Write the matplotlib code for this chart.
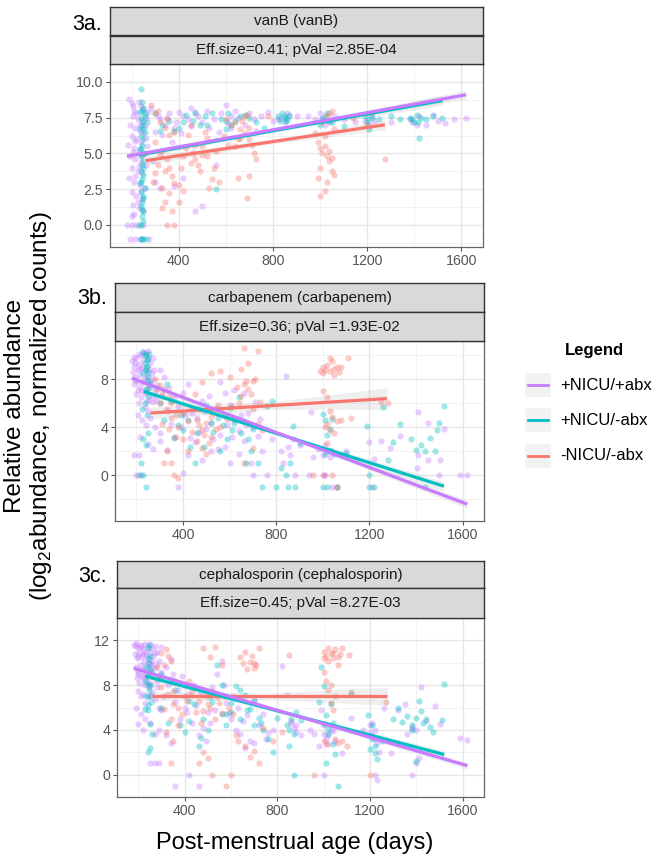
import numpy as np
import matplotlib
matplotlib.use("Agg")
import matplotlib.pyplot as plt

plt.rcParams["font.family"] = ["Liberation Sans", "DejaVu Sans"]
plt.rcParams["mathtext.fontset"] = "custom"
plt.rcParams["mathtext.rm"] = "Liberation Sans"

# ---- data ----
groups = ["+NICU/+abx", "+NICU/-abx", "-NICU/-abx"]
colors = ["#C77CFF", "#00BFC4", "#F8766D"]

panel_labels = ["3a.", "3b.", "3c."]
gene_titles = ["vanB (vanB)", "carbapenem (carbapenem)", "cephalosporin (cephalosporin)"]
stat_titles = ["Eff.size=0.41; pVal =2.85E-04",
               "Eff.size=0.36; pVal =1.93E-02",
               "Eff.size=0.45; pVal =8.27E-03"]

x_ticks = [400, 800, 1200, 1600]
a_yticks = [0.0, 2.5, 5.0, 7.5, 10.0]
b_yticks = [0, 4, 8]
c_yticks = [0, 4, 8, 12]
a_ylim = (-1.54, 10.13)
b_ylim = (-3.8, 11.2)
c_ylim = (-1.57, 12.4)

a_purple = [(190,8.8),(200,8.5),(210,8.0),(230,8.6),(240,8.3),(250,8.1),(205,7.6),(225,7.4),(245,7.2),
            (260,7.5),(195,7.0),(215,6.8),(235,6.6),(255,6.9),(200,6.2),(220,6.0),(240,5.8),(260,6.1),
            (185,5.6),(210,5.4),(230,5.2),(250,5.0),(195,4.8),(215,4.6),(240,4.4),(260,4.2),(200,4.0),
            (225,3.8),(245,3.6),(190,3.3),(210,3.0),(235,2.8),(255,2.6),(200,2.3),(220,2.0),(245,1.8),
            (205,1.4),(230,1.2),(250,1.0),(200,0.6),(180,0.0),(200,0.0),(220,0.0),(235,-1.0),(215,-1.0),
            (275,-1.0),(290,4.5),(300,3.0),(320,2.6),(300,6.5),(320,7.4),(340,7.0),(360,7.8),(380,6.8),
            (420,7.6),(450,6.9),(480,7.6),(500,7.2),(520,8.0),(550,7.4),(580,7.8),(600,8.4),(620,7.6),
            (650,7.5),(680,7.0),(720,7.4),(750,7.6),(800,7.3),(830,7.5),(860,7.8),(900,7.6),(950,7.6),
            (980,7.4),(1000,7.8),(1020,7.0),(1060,7.6),(1100,7.4),(1150,7.2),(1190,7.3),(1220,7.6),
            (1300,7.2),(1380,7.4),(1420,7.6),(1450,7.0),(1500,7.3),(1570,7.4),(1620,7.5),(500,1.3),
            (420,3.3),(470,1.0),(560,4.2),(620,6.8),(400,7.9),(450,8.2),(380,2.7),
            (205,8.3),(220,7.8),(235,7.0),(250,6.4),(215,5.9),(205,5.1),(245,4.8),(230,4.1),(215,3.4),
            (240,2.4),(225,1.6),(210,0.8),(195,-1.0),(250,0.0),(265,5.5),(270,7.9),(280,8.2),(310,7.6),
            (330,6.3),(350,7.5),(370,5.8),(390,7.2),(410,6.4),(440,7.4),(470,7.9),(530,6.8),(570,6.5),
            (610,7.1),(640,8.0),(700,7.8),(730,6.6),(780,7.9),(820,7.4),(850,7.2),(870,7.6),(1010,7.5),
            (1040,7.2),(1210,7.0),(1230,7.3),(1390,7.2),(1410,7.0),(1480,7.7),(1530,7.1)]
a_teal = [(240,9.5),(245,8.6),(250,8.2),(235,7.9),(255,7.8),(240,7.5),(250,7.3),(245,7.0),(235,6.7),
          (255,6.5),(240,6.2),(250,6.0),(245,5.6),(235,5.3),(255,5.0),(240,4.8),(250,4.5),(245,4.2),
          (240,3.8),(250,3.5),(245,3.2),(235,2.9),(255,2.6),(240,2.3),(250,2.0),(245,1.6),(240,1.3),
          (250,1.0),(245,0.6),(230,0.0),(240,0.0),(250,-1.0),(245,-1.0),(260,-1.0),(265,7.2),(300,7.8),
          (330,7.0),(360,7.3),(380,6.6),(400,6.8),(430,7.7),(460,7.3),(490,7.0),(510,7.6),(540,7.8),
          (560,2.5),(580,7.4),(610,7.8),(640,7.3),(660,7.6),(700,7.5),(730,7.2),(760,6.8),(820,7.6),
          (830,7.3),(840,7.8),(850,7.5),(860,7.4),(870,7.7),(1000,7.0),(1010,7.4),(1030,7.8),(1050,7.2),
          (1100,6.9),(1190,7.6),(1200,7.2),(1210,6.7),(1220,7.5),(1250,7.4),(1300,7.6),(1340,7.4),
          (1380,7.5),(1400,7.2),(1410,7.7),(1420,6.1),(1450,7.4),(1480,7.6),(1520,7.5),
          (245,8.0),(250,6.8),(240,5.4),(250,4.0),(240,3.0),(250,1.9),(245,1.1),(250,0.3),(240,-1.0),
          (255,7.6),(320,6.6),(420,7.2),(470,7.8),(520,7.0),(600,7.3),(680,7.7),(845,7.6),(855,7.3),
          (1020,7.6),(1040,7.3),(1205,7.4),(1215,7.8),(1390,7.4),(1415,7.2),(1430,7.5),(600,6.7),(620,7.0)]
a_red = [(280,8.4),(300,7.8),(320,7.2),(340,6.8),(360,6.3),(300,5.8),(330,5.2),(350,4.6),(310,4.2),
         (340,3.8),(370,3.4),(290,3.0),(330,2.6),(360,2.2),(340,1.6),(370,1.0),(350,0.0),(380,0.0),
         (400,1.6),(400,2.8),(410,4.0),(420,4.8),(430,5.4),(440,6.3),(460,5.0),(470,4.6),(480,4.2),
         (490,3.8),(500,5.5),(510,6.5),(520,4.8),(530,2.6),(540,3.2),(450,7.0),(560,5.2),(590,6.2),
         (620,7.0),(640,5.5),(650,6.0),(660,6.7),(670,7.3),(680,6.4),(690,7.7),(700,6.8),(710,5.6),
         (720,5.0),(730,4.6),(650,3.3),(690,1.9),(700,3.4),(600,7.4),(780,7.6),(980,6.4),(990,5.8),
         (1000,5.4),(1010,5.0),(1020,5.5),(1030,4.8),(1040,4.5),(1000,4.0),(990,3.3),(1000,2.0),
         (1020,2.4),(1050,3.8),(1060,3.5),(1040,7.8),(1050,8.0),(1030,7.6),(1010,7.2),(1060,6.7),
         (1140,7.5),(1275,4.6),(1200,7.0),
         (310,8.0),(350,7.4),(380,6.5),(320,4.9),(360,4.0),(300,3.6),(380,2.9),(330,1.2),(420,2.4),
         (450,4.3),(470,5.6),(500,4.9),(520,6.1),(550,4.0),(570,3.0),(610,5.6),(640,7.2),(660,6.1),
         (675,7.6),(700,6.0),(1020,6.2),(1040,5.2),(1050,4.7),(1030,3.0)]

b_purple = [(180,9.5),(190,9.0),(200,9.8),(210,9.3),(220,10.0),(230,9.6),(240,10.2),(250,9.8),(260,9.4),
            (185,8.6),(195,8.2),(205,8.8),(215,8.4),(225,9.0),(235,8.7),(245,8.3),(255,8.9),(265,8.5),
            (190,7.6),(200,7.9),(215,7.4),(230,7.8),(245,7.2),(260,7.6),(270,8.0),(200,6.8),(220,6.5),
            (240,6.9),(255,6.3),(210,6.0),(235,5.7),(250,5.4),(270,6.1),(280,7.0),(290,7.5),(300,8.8),
            (310,6.6),(205,5.0),(225,4.6),(240,4.2),(260,4.8),(280,4.0),(300,3.5),(215,3.2),(250,2.6),
            (270,2.2),(300,2.9),(330,2.1),(190,1.7),(210,1.7),(200,0.0),(220,0.0),(380,-1.0),
            (340,7.3),(360,6.5),(380,5.8),(400,6.9),(420,7.6),(440,5.2),(460,4.8),(480,6.2),(500,3.9),
            (520,4.4),(540,5.6),(560,7.8),(580,6.9),(600,5.9),(620,4.6),(640,3.7),(660,2.9),(680,5.2),
            (700,4.0),(720,3.3),(640,1.8),(600,1.0),(580,2.4),(560,3.4),(520,2.0),(480,1.3),(450,2.8),
            (420,1.7),(400,0.2),(760,0.0),(700,0.0),(740,2.0),(780,3.0),(660,6.9),(620,7.1),
            (840,8.3),(850,2.4),(860,1.7),(870,3.0),(880,0.0),(900,2.5),(940,0.0),(960,1.5),(950,5.3),
            (1000,1.7),(1010,2.5),(1020,2.0),(1030,1.5),(1040,-1.0),(1010,0.0),(1060,-1.0),(1100,2.0),
            (1200,2.8),(1220,1.4),(1210,-1.0),(1250,2.9),(1290,2.3),(1330,3.3),(1410,5.3),(1450,4.4),
            (1520,3.9),(1410,1.7),(1450,1.3),(1505,1.3),(1405,0.6),(1590,0.0),(1620,0.0),
            (190,9.9),(210,10.1),(230,10.3),(250,10.4),(270,9.8),(195,9.4),(215,8.9),(235,8.1),(255,7.9),
            (275,8.8),(205,7.1),(225,7.0),(245,6.2),(265,6.6),(285,6.3),(320,8.2),(330,5.4),(350,4.3),
            (360,3.2),(390,4.0),(410,5.0),(430,3.1),(470,3.6),(490,5.4),(510,6.6),(530,3.0),(550,2.2),
            (590,4.2),(610,3.2),(650,5.0),(670,4.2),(690,1.0),(710,6.1),(730,4.7),(820,2.0),(830,1.0),
            (980,2.2),(1040,2.0),(1005,0.0),(1500,0.0)]
b_teal = [(230,10.3),(240,10.0),(250,9.7),(235,9.4),(245,9.1),(255,10.1),(240,8.8),(230,8.5),(250,8.2),
          (260,7.7),(240,7.2),(250,6.6),(235,6.0),(225,5.5),(245,5.0),(230,3.0),(250,3.5),(240,2.5),
          (220,1.0),(230,0.0),(210,0.0),(240,-1.0),(300,6.0),(330,7.6),(350,6.2),(380,4.2),(400,3.8),
          (430,2.4),(450,1.0),(470,5.5),(500,5.9),(530,3.6),(550,4.8),(570,4.2),(590,3.0),(600,5.6),
          (610,3.8),(640,6.5),(660,4.5),(680,3.0),(690,2.0),(720,1.0),(740,-1.0),(760,5.8),(780,6.2),
          (800,-1.0),(820,0.6),(840,0.0),(850,-1.0),(860,1.0),(870,4.1),(880,-1.0),(900,2.7),
          (1000,5.1),(1010,4.6),(1020,3.4),(1030,3.9),(1040,4.7),(1050,1.8),(1060,-1.0),(1000,-1.0),
          (1020,-1.0),(1100,1.9),(1190,4.1),(1200,-1.0),(1220,-1.0),(1260,5.7),(1280,1.3),(1300,2.8),
          (1330,4.3),(1380,3.0),(1400,2.1),(1420,2.5),(1460,3.1),(1490,3.8),(1500,4.4),(1480,2.0),
          (1520,5.8),(1440,-1.0),
          (235,10.0),(245,9.6),(240,9.0),(250,8.6),(245,7.9),(255,7.3),(320,4.6),(360,3.1),(390,5.0),
          (420,4.6),(460,3.5),(490,2.4),(520,4.4),(560,2.0),(580,5.0),(620,4.4),(650,3.5),(670,1.0),
          (700,3.9),(1010,1.8),(1030,2.1),(1200,0.0),(1440,2.0)]
b_red = [(280,8.0),(300,7.5),(320,7.2),(340,6.5),(300,6.0),(330,5.5),(350,4.8),(310,4.3),(340,3.9),
         (370,3.2),(330,2.0),(350,1.0),(320,1.0),(360,0.0),(380,-0.2),(400,5.2),(420,4.5),(440,3.6),
         (460,2.9),(480,2.3),(500,1.8),(470,4.2),(490,3.4),(510,2.7),(520,4.9),(540,3.9),(550,5.9),
         (450,6.8),(480,7.8),(520,8.5),(560,8.7),(600,8.2),(620,4.8),(640,6.0),(660,7.6),(680,7.2),
         (700,7.9),(710,8.0),(660,10.6),(720,10.4),(680,9.4),(700,5.5),(720,4.3),(740,3.8),(660,1.0),
         (700,2.3),(650,8.9),(1000,8.5),(1010,8.8),(1020,9.2),(1030,8.7),(1040,9.5),(1050,8.4),
         (1060,9.0),(1070,8.6),(1080,9.0),(1110,9.8),(990,8.7),(1000,7.0),(1020,6.5),(1030,5.4),
         (1040,4.9),(1030,3.8),(1020,4.3),(1060,4.5),(1080,4.6),(1120,4.8),(1000,0.0),(1060,-1.0),
         (1040,0.0),(960,0.0),(1280,6.0),(1250,6.1),(1020,2.7),
         (290,7.2),(310,6.8),(350,6.0),(370,5.0),(380,4.0),(400,3.0),(420,2.0),(440,5.6),(460,4.6),
         (480,3.8),(500,4.4),(520,3.2),(530,5.3),(560,4.0),(590,4.7),(610,5.8),(630,7.4),(650,6.6),
         (670,7.9),(690,6.8),(730,6.1),(1000,9.0),(1030,9.8),(1050,8.9),(1010,4.0),(1050,3.5)]

c_purple = [(180,11.6),(190,11.5),(200,11.3),(210,11.6),(220,11.2),(230,11.7),(240,11.4),(250,11.0),
            (260,11.3),(270,11.5),(185,10.8),(195,10.4),(205,10.9),(215,10.5),(225,10.1),(235,10.7),
            (245,10.3),(255,9.9),(265,10.6),(280,11.0),(190,9.6),(200,9.2),(210,9.8),(220,9.4),(230,9.0),
            (240,9.6),(250,9.2),(260,8.8),(270,9.5),(290,10.2),(300,11.4),(195,8.6),(205,8.2),(215,8.8),
            (225,8.0),(235,8.4),(245,7.8),(255,8.1),(200,7.5),(220,7.2),(240,6.9),(260,7.4),(280,7.8),
            (300,8.6),(320,9.6),(340,10.3),(190,6.0),(210,5.4),(230,5.0),(200,4.5),(220,4.0),(250,4.6),
            (270,3.6),(290,4.0),(300,5.8),(320,3.5),(340,2.8),(250,1.0),(270,1.0),(290,1.0),(360,-1.0),
            (460,-1.0),(420,0.0),(360,6.5),(380,5.0),(400,6.0),(420,7.2),(440,8.0),(460,3.5),(480,4.2),
            (500,5.6),(520,7.8),(540,9.0),(560,10.2),(580,6.4),(600,5.0),(620,4.0),(640,3.6),(660,2.4),
            (680,3.0),(700,6.8),(720,4.4),(740,5.4),(760,3.7),(780,4.0),(820,9.7),(840,7.1),(860,4.8),
            (870,4.2),(880,3.8),(900,3.5),(940,4.0),(960,3.6),(980,2.6),(990,5.8),(1000,4.4),(1010,3.2),
            (1020,2.7),(1030,4.0),(1050,3.0),(1000,0.0),(1080,1.9),(1120,5.1),(1170,4.0),(1200,4.4),
            (1210,3.5),(1220,4.0),(1230,2.8),(1240,2.0),(1260,6.0),(1290,1.9),(1320,5.8),(1350,6.3),
            (1360,3.6),(1380,4.3),(1400,4.0),(1410,1.5),(1420,7.8),(1440,4.8),(1480,6.1),(1500,4.5),
            (1590,3.3),(1620,3.1),(1380,0.0),(1220,0.0),(1230,-0.5),
            (190,11.8),(210,11.4),(230,11.0),(250,11.7),(270,10.9),(200,10.6),(220,10.8),(240,10.0),
            (260,10.2),(280,9.9),(200,9.0),(220,8.6),(240,8.2),(260,9.6),(280,8.4),(300,9.2),(210,7.0),
            (230,6.4),(250,7.1),(270,6.8),(290,6.0),(310,7.0),(330,8.0),(350,9.0),(370,7.6),(390,8.8),
            (410,5.6),(430,4.6),(450,6.2),(470,7.4),(490,3.0),(510,4.6),(530,5.8),(570,8.0),(590,5.5),
            (610,7.0),(630,6.0),(650,4.8),(670,5.3),(700,2.8),(750,3.2),(860,4.6),(880,4.4),(1000,3.6),
            (1020,3.5),(1040,3.9),(1200,3.8),(1210,4.6),(1220,3.2),(1380,4.1),(1400,1.0)]
c_teal = [(240,11.3),(250,10.6),(245,10.0),(235,9.6),(255,9.2),(240,8.8),(230,8.4),(250,8.0),(245,7.6),
          (235,7.0),(255,6.5),(240,5.8),(230,5.9),(250,4.5),(260,3.6),(240,2.0),(250,2.4),(280,8.6),
          (300,9.0),(340,8.5),(380,4.4),(400,3.8),(420,4.8),(440,6.3),(460,2.6),(470,3.3),(500,4.0),
          (520,6.5),(540,9.8),(560,8.0),(580,5.4),(600,5.6),(620,7.9),(640,7.6),(660,7.1),(680,5.9),
          (700,4.4),(720,5.1),(740,4.0),(760,3.2),(780,2.0),(800,5.1),(840,4.4),(850,2.6),(860,5.0),
          (880,5.6),(900,4.9),(870,0.0),(980,6.5),(990,9.6),(1000,7.9),(1010,5.3),(1020,4.1),(1030,6.3),
          (1040,2.7),(1050,1.8),(1060,-1.0),(1010,1.0),(1120,7.2),(1190,5.3),(1200,2.3),(1210,3.2),
          (1220,1.9),(1230,1.4),(1250,3.0),(1300,5.0),(1320,6.0),(1340,4.7),(1360,5.2),(1380,4.4),
          (1400,5.1),(1410,6.6),(1420,5.7),(1440,5.0),(1460,4.3),(1470,3.8),(1510,4.9),(1520,8.1),
          (1400,1.2),
          (245,11.6),(240,10.4),(250,9.4),(240,8.0),(250,7.0),(240,6.2),(300,6.0),(330,4.6),(360,7.6),
          (420,6.6),(480,5.0),(510,6.9),(560,5.4),(580,4.4),(600,6.4),(640,5.0),(670,5.8),(700,6.6),
          (730,4.6),(850,4.0),(870,3.6),(1000,4.5),(1020,3.6),(1040,4.6),(1210,4.4),(1220,2.6),
          (1380,4.0),(1430,4.6)]
c_red = [(280,9.6),(300,10.9),(320,11.2),(340,10.2),(360,8.4),(300,7.8),(330,7.2),(350,6.3),(310,5.9),
         (340,5.0),(370,4.4),(320,3.8),(350,3.0),(340,1.0),(400,7.0),(420,8.4),(440,7.8),(460,6.6),
         (480,5.7),(500,6.3),(520,7.5),(540,6.9),(560,5.5),(480,2.0),(460,1.0),(500,1.5),(520,0.0),
         (480,11.3),(530,11.4),(510,10.5),(560,9.8),(600,0.0),(580,-1.0),(620,3.5),(640,10.5),
         (660,11.0),(680,10.1),(700,9.5),(720,11.3),(700,10.0),(660,2.6),(680,1.6),(700,2.1),(720,1.0),
         (740,4.2),(780,3.0),(820,3.8),(850,10.7),(960,0.0),(1000,11.0),(1010,10.6),(1020,10.2),
         (1030,10.9),(1040,10.4),(1050,11.2),(1060,9.8),(1070,10.8),(1080,11.3),(1110,10.7),(1000,9.2),
         (1010,8.4),(1020,7.6),(1030,6.4),(1040,5.8),(1000,3.0),(1010,2.7),(1060,2.8),(1080,3.0),
         (1100,2.6),(1120,7.4),(1050,7.0),(1270,6.5),(1200,0.0),
         (290,8.6),(310,9.8),(330,10.6),(350,7.5),(370,6.0),(390,5.4),(410,6.6),(430,7.4),(450,5.6),
         (470,4.6),(490,7.0),(510,6.0),(530,5.0),(550,6.4),(570,7.0),(590,6.0),(610,5.4),(630,3.0),
         (650,10.0),(670,9.4),(690,10.6),(710,9.8),(1000,10.4),(1020,11.3),(1040,10.9),(1060,10.5),
         (1030,8.0),(1050,3.2)]

# linear fits: (x start, x end), (y start, y end), band half-width (start, middle, end)
a_fit_x = [(180, 1620), (230, 1520), (260, 1275)]
a_fit_y = [(4.8, 9.1), (4.9, 8.7), (4.5, 7.0)]
a_band = [(0.2, 0.1, 0.3), (0.2, 0.1, 0.35), (0.3, 0.15, 0.35)]
b_fit_x = [(180, 1620), (230, 1520), (260, 1275)]
b_fit_y = [(8.1, -2.4), (7.0, -0.9), (5.2, 6.4)]
b_band = [(0.3, 0.15, 0.35), (0.3, 0.15, 0.4), (0.5, 0.3, 0.9)]
c_fit_x = [(180, 1620), (230, 1520), (260, 1275)]
c_fit_y = [(9.5, 0.8), (8.8, 1.8), (7.0, 7.0)]
c_band = [(0.3, 0.15, 0.3), (0.3, 0.15, 0.35), (0.4, 0.3, 0.8)]

W, H = 657, 863
fig = plt.figure(figsize=(W / 100, H / 100), dpi=100)


def px_axes(x0, y0, x1, y1):
    return fig.add_axes([x0 / W, 1 - y1 / H, (x1 - x0) / W, (y1 - y0) / H])


def strip(box, text):
    s = px_axes(*box)
    s.set_facecolor("#D9D9D9")
    s.set_xticks([])
    s.set_yticks([])
    for sp in s.spines.values():
        sp.set_color("#333333")
        sp.set_linewidth(1.0)
    s.text(0.5, 0.5, text, ha="center", va="center", fontsize=11, color="#1A1A1A")


panels = [
    dict(plot=(110, 64, 483, 247), strips=[(110, 7, 483, 35), (110, 36, 483, 64)], lab=(72, 24),
         pts=[a_purple, a_teal, a_red], fx=a_fit_x, fy=a_fit_y, band=a_band,
         yt=a_yticks, ylim=a_ylim, ytl=["%.1f" % v for v in a_yticks]),
    dict(plot=(115, 341, 484, 521), strips=[(115, 283, 484, 312), (115, 312, 484, 341)], lab=(77, 298),
         pts=[b_purple, b_teal, b_red], fx=b_fit_x, fy=b_fit_y, band=b_band,
         yt=b_yticks, ylim=b_ylim, ytl=[str(v) for v in b_yticks]),
    dict(plot=(117, 618, 484, 797), strips=[(117, 561, 484, 588), (117, 588, 484, 618)], lab=(78, 576),
         pts=[c_purple, c_teal, c_red], fx=c_fit_x, fy=c_fit_y, band=c_band,
         yt=c_yticks, ylim=c_ylim, ytl=[str(v) for v in c_yticks]),
]

for i, p in enumerate(panels):
    ax = px_axes(*p["plot"])
    ax.set_xlim(108, 1692)
    ax.set_ylim(*p["ylim"])
    ax.set_xticks(x_ticks)
    ax.set_xticks([200, 600, 1000, 1400], minor=True)
    yt = p["yt"]
    step = yt[1] - yt[0]
    ax.set_yticks(yt)
    ax.set_yticklabels(p["ytl"])
    ax.set_yticks([v + step / 2 for v in [yt[0] - step] + list(yt)], minor=True)
    ax.grid(True, which="major", color="#E6E6E6", lw=1.0)
    ax.grid(True, which="minor", color="#F0F0F0", lw=0.6)
    ax.set_axisbelow(True)
    ax.tick_params(which="major", length=3, color="#555555", labelcolor="#555555", labelsize=10.2, pad=2)
    ax.tick_params(which="minor", length=0)
    for sp in ax.spines.values():
        sp.set_color("#666666")
        sp.set_linewidth(0.9)

    for pts, col in zip(p["pts"], colors):
        arr = np.array(pts)
        ax.scatter(arr[:, 0], arr[:, 1], s=20, color=col, alpha=0.38, lw=0, zorder=2)

    for k in [2, 1, 0]:
        x0, x1 = p["fx"][k]
        y0, y1 = p["fy"][k]
        xs = np.array([x0, (x0 + x1) / 2, x1])
        ys = np.array([y0, (y0 + y1) / 2, y1])
        bw = np.array(p["band"][k])
        ax.fill_between(xs, ys - bw, ys + bw, color="#999999", alpha=0.15, lw=0, zorder=3)
        ax.plot([x0, x1], [y0, y1], color=colors[k], lw=2.3, solid_capstyle="butt", zorder=4)

    strip(p["strips"][0], gene_titles[i])
    strip(p["strips"][1], stat_titles[i])
    fig.text(p["lab"][0] / W, 1 - p["lab"][1] / H, panel_labels[i], fontsize=15.5, va="center", ha="left")

fig.text(295 / W, 1 - 843 / H, "Post-menstrual age (days)", fontsize=17, ha="center", va="center")
fig.text(29 / W, 1 - 406 / H, "Relative abundance\n(log$_2$abundance, normalized counts)",
         fontsize=17.5, rotation=90, ha="center", va="center", linespacing=1.1, multialignment="center")

# legend
fig.text(594 / W, 1 - 351 / H, "Legend", fontsize=12, fontweight="bold", ha="center", va="center")
for j, (g, col) in enumerate(zip(groups, colors)):
    yc = 385 + j * 35.5
    kax = px_axes(525, yc - 12, 551, yc + 12)
    kax.set_xlim(0, 1)
    kax.set_ylim(0, 1)
    kax.axis("off")
    kax.add_patch(plt.Rectangle((0, 0), 1, 1, color="#F2F2F2"))
    kax.plot([0.12, 0.88], [0.5, 0.5], color=col, lw=2.0)
    fig.text(560 / W, 1 - yc / H, g, fontsize=12, ha="left", va="center")

fig.savefig("out.png", dpi=100)
